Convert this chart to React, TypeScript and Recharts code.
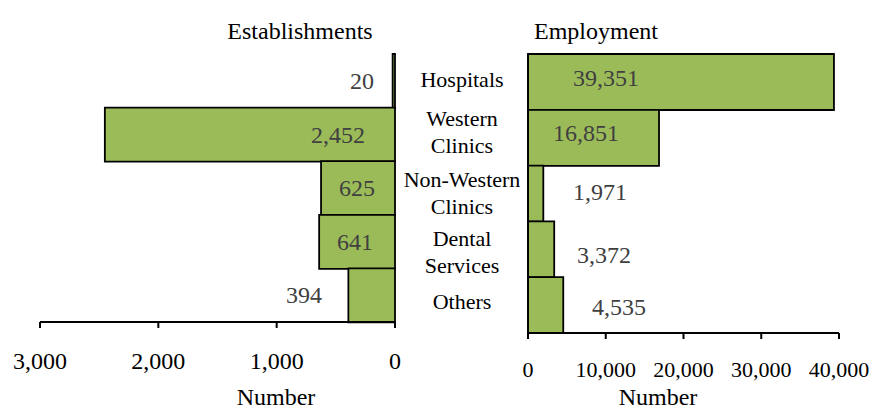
import React from 'react';
import { BarChart, Bar, XAxis, YAxis, LabelList } from 'recharts';

const categories = ['Hospitals', 'Western Clinics', 'Non-Western Clinics', 'Dental Services', 'Others'];
const categoryLines = [['Hospitals'], ['Western', 'Clinics'], ['Non-Western', 'Clinics'], ['Dental', 'Services'], ['Others']];
const establishments = [20, 2452, 625, 641, 394];
const employment = [39351, 16851, 1971, 3372, 4535];
const estTicks = [0, 1000, 2000, 3000];
const empTicks = [0, 10000, 20000, 30000, 40000];

const data = categories.map((name, i) => ({ name, est: establishments[i], emp: employment[i] }));

const FONT = '"Liberation Serif", "Times New Roman", serif';
const GREEN = '#9BBB59';
const fmt = (v: number) => v.toLocaleString('en-US');

// label placement styling (offsets relative to bar geometry)
const estLabelGap = [21, 30, 20, 22, 73];
const empLabelGap = [45, 25, 45, 49, 64];
const empLabelDy = [-4, -5, -2, 6, 2];
const catDy = [-2, -6, -1, 3, -4];

function box(p: any) {
  const vb = p.viewBox && typeof p.viewBox.x === 'number' ? p.viewBox : p;
  return { x: Number(vb.x), y: Number(vb.y), width: Number(vb.width), height: Number(vb.height) };
}

const EstLabel = (p: any) => {
  const b = box(p);
  const right = Math.max(b.x, b.x + b.width);
  const top = Math.min(b.y, b.y + b.height);
  const h = Math.abs(b.height);
  const i = p.index ?? 0;
  return (
    <text x={right - estLabelGap[i]} y={top + h / 2} textAnchor="end" dominantBaseline="central"
      fontSize={24} fontFamily={FONT} fill="#404040">
      {fmt(Number(p.value))}
    </text>
  );
};

const EmpLabel = (p: any) => {
  const b = box(p);
  const left = Math.min(b.x, b.x + b.width);
  const top = Math.min(b.y, b.y + b.height);
  const h = Math.abs(b.height);
  const i = p.index ?? 0;
  return (
    <text x={left + empLabelGap[i]} y={top + h / 2 + empLabelDy[i]} textAnchor="start" dominantBaseline="central"
      fontSize={24} fontFamily={FONT} fill="#404040">
      {fmt(Number(p.value))}
    </text>
  );
};

const CatTick = (p: any) => {
  const { x, y, index } = p;
  const lines = categoryLines[index] || [String(p.payload?.value)];
  const lh = 27;
  const startY = y + catDy[index] - ((lines.length - 1) * lh) / 2;
  return (
    <text x={x - 66} y={startY} textAnchor="middle" fontSize={22} fontFamily={FONT} fill="#000">
      {lines.map((l, k) => (
        <tspan key={k} x={x - 66} y={startY + k * lh} dominantBaseline="central">{l}</tspan>
      ))}
    </text>
  );
};

const titleStyle: React.CSSProperties = {
  position: 'absolute', fontFamily: FONT, fontSize: 24, color: '#000', lineHeight: '24px',
  whiteSpace: 'nowrap', transform: 'translate(-50%, -50%)',
};

export default function App() {
  return (
    <div style={{ position: 'absolute', left: 0, top: 0, width: 873, height: 412, background: '#fff', overflow: 'hidden' }}>
      <div style={{ position: 'absolute', left: 0, top: 0 }}>
        <BarChart width={440} height={412} data={data} layout="vertical"
          margin={{ top: 54, right: 45, left: 40, bottom: 50 }} barCategoryGap={0} barGap={0}>
          <XAxis type="number" domain={[0, 3000]} ticks={estTicks} reversed tickFormatter={fmt}
            axisLine={{ stroke: '#000', strokeWidth: 2 }} tickLine={{ stroke: '#000', strokeWidth: 2 }}
            tickSize={6} tickMargin={24} height={40} interval={0}
            tick={{ fill: '#000', fontSize: 24, fontFamily: FONT }} />
          <YAxis type="category" dataKey="name" hide />
          <Bar dataKey="est" fill={GREEN} stroke="#000" strokeWidth={1.8} isAnimationActive={false}>
            <LabelList dataKey="est" content={EstLabel} />
          </Bar>
        </BarChart>
      </div>
      <div style={{ position: 'absolute', left: 380, top: 0 }}>
        <BarChart width={493} height={412} data={data} layout="vertical"
          margin={{ top: 54, right: 34, left: 0, bottom: 39 }} barCategoryGap={0} barGap={0}>
          <XAxis type="number" domain={[0, 40000]} ticks={empTicks} tickFormatter={fmt}
            axisLine={{ stroke: '#000', strokeWidth: 2 }} tickLine={{ stroke: '#000', strokeWidth: 2 }}
            tickSize={6} tickMargin={22} height={40} interval={0}
            tick={{ fill: '#000', fontSize: 22, fontFamily: FONT }} />
          <YAxis type="category" dataKey="name" width={148} axisLine={{ stroke: '#000', strokeWidth: 1.5 }}
            tickLine={false} tickSize={0} tickMargin={0} tick={<CatTick />} interval={0} />
          <Bar dataKey="emp" fill={GREEN} stroke="#000" strokeWidth={1.8} isAnimationActive={false}>
            <LabelList dataKey="emp" content={EmpLabel} />
          </Bar>
        </BarChart>
      </div>
      <div style={{ ...titleStyle, left: 300, top: 31 }}>Establishments</div>
      <div style={{ ...titleStyle, left: 596, top: 31 }}>Employment</div>
      <div style={{ ...titleStyle, left: 276, top: 397 }}>Number</div>
      <div style={{ ...titleStyle, left: 658, top: 397 }}>Number</div>
    </div>
  );
}
